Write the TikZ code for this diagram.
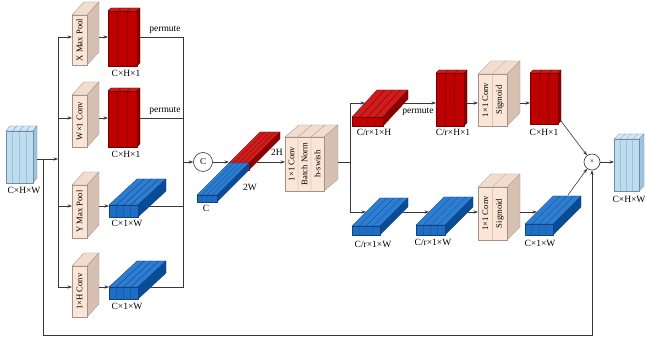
\documentclass[tikz,border=0pt]{standalone}
\usepackage{fontspec}
\setmainfont{Liberation Serif}
\usetikzlibrary{arrows.meta}
\definecolor{beigeF}{RGB}{251,229,214}
\definecolor{beigeT}{RGB}{242,221,205}
\definecolor{beigeS}{RGB}{214,192,178}
\definecolor{beigeE}{RGB}{165,145,135}
\definecolor{redF}{RGB}{192,0,0}
\definecolor{redT}{RGB}{208,28,28}
\definecolor{redS}{RGB}{140,0,0}
\definecolor{redE}{RGB}{115,0,0}
\definecolor{bluF}{RGB}{30,110,195}
\definecolor{bluT}{RGB}{45,125,210}
\definecolor{bluS}{RGB}{10,75,150}
\definecolor{bluE}{RGB}{15,65,130}
\definecolor{lbF}{RGB}{190,220,240}
\definecolor{lbT}{RGB}{212,232,246}
\definecolor{lbS}{RGB}{160,195,222}
\definecolor{lbE}{RGB}{110,140,165}
\definecolor{lineC}{RGB}{55,55,55}
\newcommand\cuboid[7]{%
  \filldraw[#7top] (#1,#2) -- (#1+#5,#2+#6) -- (#1+#3+#5,#2+#6) -- (#1+#3,#2) -- cycle;
  \filldraw[#7side] (#1+#3,#2) -- (#1+#3+#5,#2+#6) -- (#1+#3+#5,#2+#4+#6) -- (#1+#3,#2+#4) -- cycle;
  \filldraw[#7front] (#1,#2) rectangle (#1+#3,#2+#4);
}
\newcommand\stripes[8]{%
  \pgfmathtruncatemacro\nstr{#7-1}%
  \foreach \i in {1,...,\nstr} {
    \draw[#8, line width=0.35pt] (#1+\i*#3/#7,#2+#4) -- (#1+\i*#3/#7,#2) -- (#1+\i*#3/#7+#5,#2+#6);
  }
}
\begin{document}
\begin{tikzpicture}[x=1pt,y=-1pt,
  conn/.style={draw=lineC, line width=0.6pt},
  arr/.style={conn, -{Stealth[length=4.5pt,width=3.2pt]}},
  lbl/.style={font=\fontsize{9.5}{10}\selectfont, inner sep=0pt},
  boxtxt/.style={font=\fontsize{8.6}{9}\selectfont, rotate=90, inner sep=0pt},
  beigetop/.style={fill=beigeT, draw=beigeE, line width=0.35pt, line join=round},
  beigeside/.style={fill=beigeS, draw=beigeE, line width=0.35pt, line join=round},
  beigefront/.style={fill=beigeF, draw=beigeE, line width=0.35pt, line join=round},
  redtop/.style={fill=redT, draw=redE, line width=0.35pt, line join=round},
  redside/.style={fill=redS, draw=redE, line width=0.35pt, line join=round},
  redfront/.style={fill=redF, draw=redE, line width=0.35pt, line join=round},
  blutop/.style={fill=bluT, draw=bluE, line width=0.35pt, line join=round},
  bluside/.style={fill=bluS, draw=bluE, line width=0.35pt, line join=round},
  blufront/.style={fill=bluF, draw=bluE, line width=0.35pt, line join=round},
  lbtop/.style={fill=lbT, draw=lbE, line width=0.35pt, line join=round},
  lbside/.style={fill=lbS, draw=lbE, line width=0.35pt, line join=round},
  lbfront/.style={fill=lbF, draw=lbE, line width=0.35pt, line join=round},
  opcirc/.style={circle, draw=lineC, line width=0.6pt, fill=white, inner sep=0pt},
]
\fill[white] (0,0) rectangle (646,344);
\useasboundingbox (0,0) rectangle (646,344);

% ---------- input tensor ----------
\cuboid{6}{131}{27}{52}{4}{-5}{lb}
\stripes{6}{131}{27}{52}{4}{-5}{4}{lbE}
\node[lbl] (inlbl) at (24,190) {C×H×W};

% ---------- branch boxes ----------
\cuboid{72}{15}{15}{50}{12}{-13}{beige}
\node[boxtxt] (xpool) at (79.5,40) {X Max Pool};
\cuboid{72}{95}{15}{52}{12}{-13}{beige}
\node[boxtxt] (wconv) at (79.5,121) {W×1 Conv};
\cuboid{72}{185}{15}{53}{12}{-13}{beige}
\node[boxtxt] (ypool) at (79.5,211.5) {Y Max Pool};
\cuboid{72}{266}{15}{51}{12}{-13}{beige}
\node[boxtxt] (hconv) at (79.5,291.5) {1×H Conv};

% ---------- branch tensors ----------
\cuboid{108}{11}{29}{55}{3}{-3}{red}
\stripes{108}{11}{29}{55}{3}{-3}{3}{redE}
\node[lbl] (l1) at (126,73) {C×H×1};
\cuboid{108}{91}{29}{56}{3}{-3}{red}
\stripes{108}{91}{29}{56}{3}{-3}{3}{redE}
\node[lbl] (l2) at (126,154) {C×H×1};
\cuboid{109}{205}{29}{12}{28}{-26}{blu}
\stripes{109}{205}{29}{12}{28}{-26}{4}{bluE}
\node[lbl] (l3) at (127,223) {C×1×W};
\cuboid{109}{287}{29}{12}{28}{-26}{blu}
\stripes{109}{287}{29}{12}{28}{-26}{4}{bluE}
\node[lbl] (l4) at (127,306) {C×1×W};
\node[lbl] (perm1) at (165,30) {permute};
\node[lbl] (perm2) at (165,111) {permute};

% ---------- concatenated tensor ----------
\cuboid{229}{163}{20}{7}{31}{-31}{red}
\stripes{229}{163}{20}{7}{31}{-31}{4}{redE}
\cuboid{197}{195}{20}{7}{32}{-32}{blu}
\stripes{197}{195}{20}{7}{32}{-32}{4}{bluE}
\node[lbl] (lc) at (206,208) {C};
\node[lbl] (l2w) at (250,187) {2W};
\node[lbl] (l2h) at (277,152) {2H};
\node[opcirc, minimum size=19pt, font=\fontsize{9}{10}\selectfont] (cat) at (203,162) {C};

% ---------- conv / bn / h-swish ----------
\cuboid{285}{137}{39}{54}{14}{-12}{beige}
\stripes{285}{137}{39}{54}{14}{-12}{3}{beigeE}
\node[boxtxt] (t1) at (291.5,164) {1×1 Conv};
\node[boxtxt] (t2) at (304.5,164) {Batch Norm};
\node[boxtxt] (t3) at (317.5,164) {h-swish};

% ---------- upper right path ----------
\cuboid{352}{117}{31}{9}{25}{-27}{red}
\stripes{352}{117}{31}{9}{25}{-27}{4}{redE}
\node[lbl] (l5) at (374,132) {C/r×1×H};
\node[lbl] (perm3) at (418,112) {permute};
\cuboid{436}{73}{28}{53}{3}{-3}{red}
\stripes{436}{73}{28}{53}{3}{-3}{3}{redE}
\node[lbl] (l6) at (453,132) {C/r×H×1};
\cuboid{478}{74}{29}{52}{13}{-13}{beige}
\stripes{478}{74}{29}{52}{13}{-13}{2}{beigeE}
\node[boxtxt] (t4) at (485.25,100) {1×1 Conv};
\node[boxtxt] (t5) at (499.75,100) {Sigmoid};
\cuboid{530}{73}{28}{51}{3}{-3}{red}
\stripes{530}{73}{28}{51}{3}{-3}{3}{redE}
\node[lbl] (l7) at (544,132) {C×H×1};

% ---------- lower right path ----------
\cuboid{352}{226}{28}{9}{28}{-28}{blu}
\stripes{352}{226}{28}{9}{28}{-28}{4}{bluE}
\node[lbl] (l8) at (373,244) {C/r×1×W};
\cuboid{416}{225}{29}{10}{28}{-28}{blu}
\stripes{416}{225}{29}{10}{28}{-28}{4}{bluE}
\node[lbl] (l9) at (433,242) {C/r×1×W};
\cuboid{478}{187}{29}{53}{13}{-13}{beige}
\stripes{478}{187}{29}{53}{13}{-13}{2}{beigeE}
\node[boxtxt] (t6) at (485.25,213.5) {1×1 Conv};
\node[boxtxt] (t7) at (499.75,213.5) {Sigmoid};
\cuboid{525}{224}{28}{11}{28}{-28}{blu}
\stripes{525}{224}{28}{11}{28}{-28}{4}{bluE}
\node[lbl] (l10) at (540,243) {C×1×W};

% ---------- output ----------
\node[opcirc, minimum size=16pt, font=\fontsize{7}{8}\selectfont] (mul) at (592,162) {×};
\cuboid{614}{139}{25}{52}{5}{-5}{lb}
\stripes{614}{139}{25}{52}{5}{-5}{4}{lbE}
\node[lbl] (outlbl) at (629,199) {C×H×W};

% ---------- connection points ----------
\coordinate (inR) at (37,159);
\coordinate (busLin) at (58,159);
\coordinate (busLt) at (58,37);
\coordinate (busLb) at (58,287);
\coordinate (b1W) at (72,37);
\coordinate (b2W) at (72,118);
\coordinate (b3W) at (72,206);
\coordinate (b4W) at (72,287);
\coordinate (b2Wb) at (58,118);
\coordinate (b3Wb) at (58,206);
\coordinate (b1E) at (99,37);
\coordinate (b2E) at (99,118);
\coordinate (b3E) at (99,206);
\coordinate (b4E) at (99,287);
\coordinate (r1W) at (108,37);
\coordinate (r2W) at (108,118);
\coordinate (u1W) at (109,206);
\coordinate (u2W) at (109,287);
\coordinate (r1E) at (140,37);
\coordinate (r2E) at (140,118);
\coordinate (u1E) at (150,206);
\coordinate (u2E) at (151,287);
\coordinate (busRt) at (183,37);
\coordinate (busR2) at (183,118);
\coordinate (busR3) at (183,206);
\coordinate (busRb) at (183,287);
\coordinate (busRc) at (183,162);
\coordinate (slabIn) at (229,162);
\coordinate (slabOut) at (257,162);
\coordinate (cbW) at (285,162);
\coordinate (cbE) at (338,162);
\coordinate (bus2c) at (350,162);
\coordinate (bus2t) at (350,103);
\coordinate (bus2b) at (350,212);
\coordinate (rsW) at (365,103);
\coordinate (rsE) at (404,103);
\coordinate (rtW) at (436,103);
\coordinate (rtE) at (467,103);
\coordinate (sg1W) at (478,103);
\coordinate (sg1E) at (520,103);
\coordinate (r3W) at (530,103);
\coordinate (r3E) at (561,121);
\coordinate (bs1W) at (366,212);
\coordinate (bs1E) at (403,212);
\coordinate (bs2W) at (429,212);
\coordinate (bs2E) at (468,212);
\coordinate (sg2W) at (478,212);
\coordinate (sg2E) at (520,212);
\coordinate (bs3W) at (537,212);
\coordinate (bs3E) at (568,195);
\coordinate (outW) at (614,162);
\coordinate (byA) at (43,159);
\coordinate (byB) at (43,335);
\coordinate (byC) at (592,335);

% ---------- connectors ----------
\draw[arr] (inR) -- (busLin);
\draw[conn] (busLt) -- (busLb);
\draw[arr] (busLt) -- (b1W);
\draw[arr] (b2Wb) -- (b2W);
\draw[arr] (b3Wb) -- (b3W);
\draw[arr] (busLb) -- (b4W);
\draw[arr] (b1E) -- (r1W);
\draw[arr] (b2E) -- (r2W);
\draw[arr] (b3E) -- (u1W);
\draw[arr] (b4E) -- (u2W);
\draw[conn] (r1E) -- (busRt) -- (busRb) -- (u2E);
\draw[conn] (r2E) -- (busR2);
\draw[conn] (u1E) -- (busR3);
\draw[arr] (busRc) -- (cat);
\draw[arr] (cat) -- (slabIn);
\draw[arr] (slabOut) -- (cbW);
\draw[conn] (cbE) -- (bus2c);
\draw[conn] (bus2t) -- (bus2b);
\draw[arr] (bus2t) -- (rsW);
\draw[arr] (bus2b) -- (bs1W);
\draw[arr] (rsE) -- (rtW);
\draw[arr] (rtE) -- (sg1W);
\draw[arr] (sg1E) -- (r3W);
\draw[arr] (r3E) -- (mul);
\draw[arr] (bs1E) -- (bs2W);
\draw[arr] (bs2E) -- (sg2W);
\draw[arr] (sg2E) -- (bs3W);
\draw[arr] (bs3E) -- (mul);
\draw[arr] (mul) -- (outW);
\draw[arr] (byA) -- (byB) -- (byC) -- (mul);
\end{tikzpicture}
\end{document}
